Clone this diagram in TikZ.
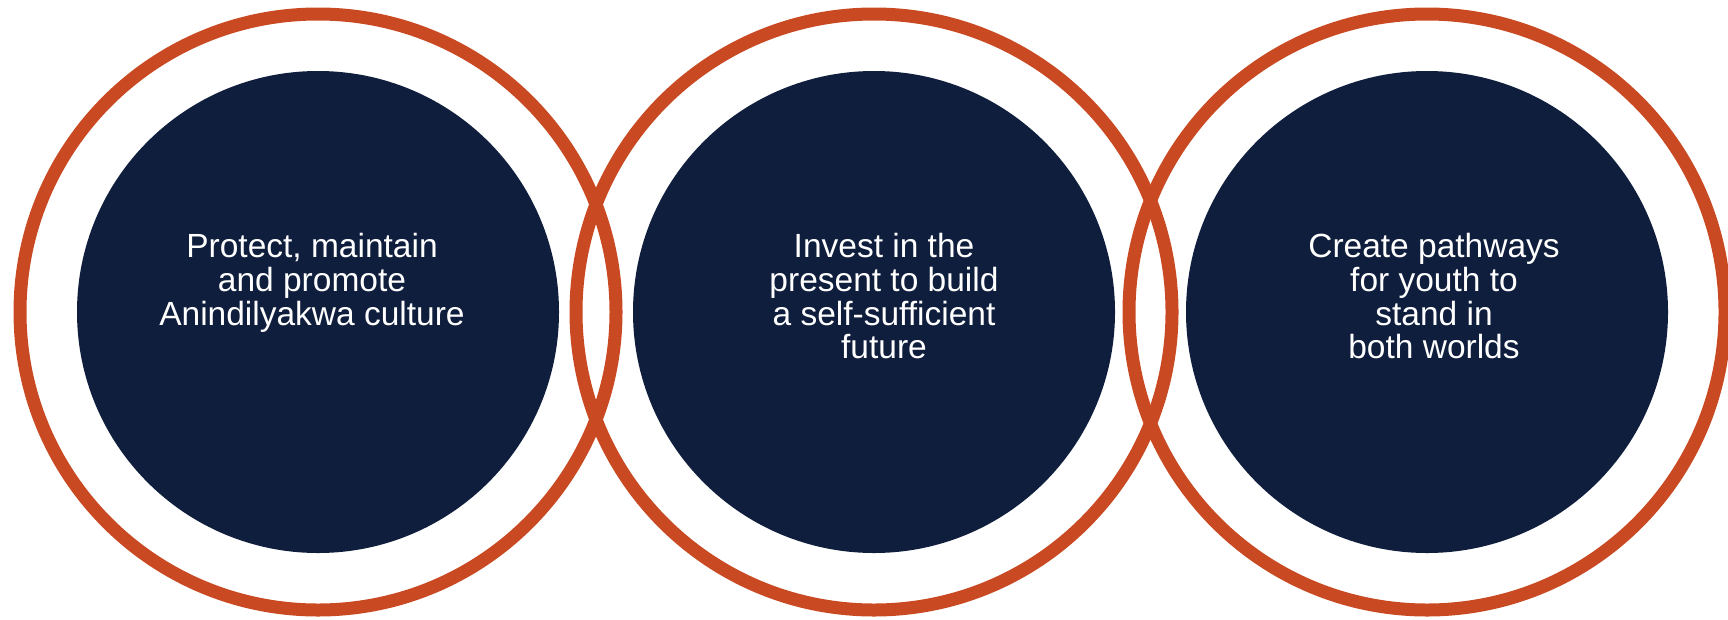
\documentclass[tikz,border=0pt]{standalone}
\usepackage{fontspec}
\setmainfont{Liberation Sans}
\definecolor{ringorange}{RGB}{201,74,34}
\definecolor{discnavy}{RGB}{16,30,61}
\tikzset{
  ring/.style={circle, draw=ringorange, line width=13pt, minimum size=596pt, inner sep=0pt},
  disc/.style={circle, fill=discnavy, minimum size=482pt, inner sep=0pt},
  goal/.style={text=white, align=center, inner sep=0pt, anchor=north,
    font=\fontsize{33.5}{33.8}\selectfont},
}
\begin{document}
\begin{tikzpicture}[x=1pt,y=-1pt]
    \useasboundingbox (0,0) rectangle (1728,619);

    % Dark discs
    \node[disc] (culture) at (318,312) {};
    \node[disc] (future) at (874,312) {};
    \node[disc] (youth) at (1427,312) {};

    % Orange rings
    \node[ring] (cultureRing) at (318,312) {};
    \node[ring] (futureRing) at (874,312) {};
    \node[ring] (youthRing) at (1427,312) {};

    % Goals
    \node[goal] (cultureText) at (312,233) {Protect, maintain\\and promote\\Anindilyakwa culture};
    \node[goal] (futureText) at (884,233) {Invest in the\\present to build\\a self-sufficient\\future};
    \node[goal] (youthText) at (1434,233) {Create pathways\\for youth to\\stand in\\both worlds};
\end{tikzpicture}
\end{document}
